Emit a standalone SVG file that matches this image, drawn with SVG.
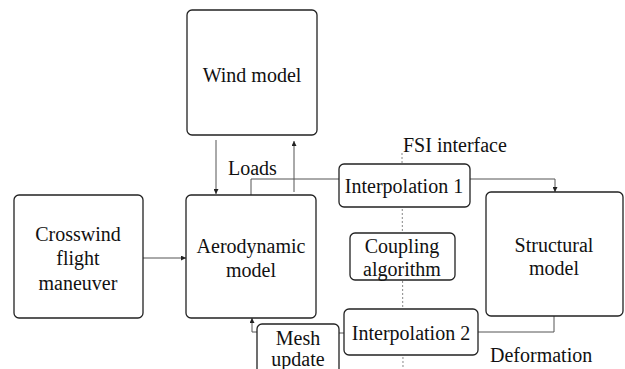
<svg xmlns="http://www.w3.org/2000/svg" width="625" height="369" viewBox="0 0 625 369">
<style>
.box{fill:#fff;stroke:#222;stroke-width:1.3}
.ln{fill:none;stroke:#555;stroke-width:1}
.dot{fill:none;stroke:#888;stroke-width:1;stroke-dasharray:2 2}
</style>
<defs>
<marker id="ah" viewBox="0 0 6 6" refX="6" refY="3" markerWidth="5" markerHeight="5" orient="auto">
<path d="M0,0 L6,3 L0,6 z" fill="#222"/>
</marker>
</defs>
<line class="dot" x1="402" y1="153" x2="403" y2="369"/>
<g id="connectors">
<line class="ln" x1="216" y1="140" x2="216" y2="194" marker-end="url(#ah)"/>
<line class="ln" x1="294" y1="192" x2="294" y2="141" marker-end="url(#ah)"/>
<polyline class="ln" points="251,195 251,179 339,179"/>
<polyline class="ln" points="470,179 555,179 555,192" marker-end="url(#ah)"/>
<line class="ln" x1="143" y1="258" x2="186" y2="258" marker-end="url(#ah)"/>
<polyline class="ln" points="554,316 554,332 478,332"/>
<line class="ln" x1="339" y1="333" x2="344" y2="333"/>
<polyline class="ln" points="257,332 252,332 252,318" marker-end="url(#ah)"/>
</g>
<g font-family="Liberation Serif" font-size="20" fill="#111" text-anchor="middle">
<g id="wind"><rect class="box" x="187" y="10" width="130" height="125" rx="5"/><text x="252" y="82">Wind model</text></g>
<g id="crosswind"><rect class="box" x="14" y="195" width="129" height="123" rx="5"/><text x="78" y="241">Crosswind</text><text x="78" y="265">flight</text><text x="78" y="290">maneuver</text></g>
<g id="aero"><rect class="box" x="186" y="195" width="130" height="123" rx="5"/><text x="251" y="253">Aerodynamic</text><text x="251" y="277">model</text></g>
<g id="interp1"><rect class="box" x="339" y="164" width="131" height="43" rx="5"/><text x="404" y="193">Interpolation 1</text></g>
<g id="coupling"><rect class="box" x="350" y="233" width="105" height="47" rx="5"/><text x="402" y="253">Coupling</text><text x="402" y="276">algorithm</text></g>
<g id="structural"><rect class="box" x="486" y="192" width="137" height="124" rx="5"/><text x="554" y="252">Structural</text><text x="554" y="275">model</text></g>
<g id="interp2"><rect class="box" x="344" y="309" width="134" height="46" rx="5"/><text x="411" y="340">Interpolation 2</text></g>
<g id="mesh"><rect class="box" x="257" y="324" width="82" height="60" rx="5"/><text x="298" y="345">Mesh</text><text x="298" y="366">update</text></g>
<g id="labels" text-anchor="start">
<text x="228" y="175">Loads</text>
<text x="403" y="152">FSI interface</text>
<text x="490" y="362">Deformation</text>
</g>
</g>
</svg>
